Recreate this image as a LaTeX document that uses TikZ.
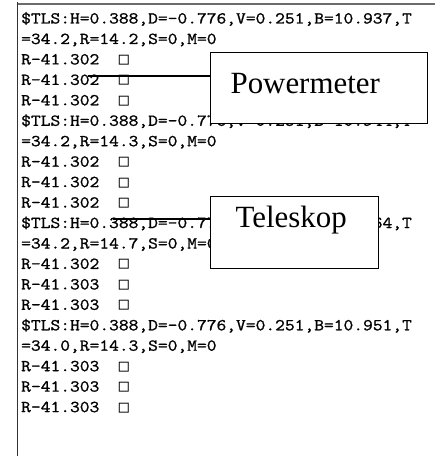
\documentclass[tikz,border=0pt]{standalone}
\usepackage{fontspec}
\setmainfont{Liberation Serif}
\newfontfamily\listfont{Latin Modern Mono}[FakeStretch=1.14,FakeBold=1.2]
\newfontfamily\glyphfont{DejaVu Sans Mono}
\newcommand{\nochar}{{\glyphfont\fontsize{16.7}{20}\selectfont □}}
\begin{document}
\begin{tikzpicture}[x=1bp,y=-1bp,
    listline/.style={anchor=base west,inner sep=0pt,
      font=\listfont\fontsize{16.7}{20}\selectfont},
    namebox/.style={draw,line width=1.2bp,fill=white,anchor=north west,
      align=left,inner ysep=5bp,font=\fontsize{31}{36}\selectfont}]
  \useasboundingbox (0,0) rectangle (435,456);
  % window frame
  \draw[gray!85!black,line width=2.5bp] (17,3.8) -- (435,3.8);
  \draw[black!80,line width=1bp] (17.5,2.5) -- (17.5,456);
  % terminal output
  \path
    (21,23.5) node[listline] (l1) {\$TLS:H=0.388,D=-0.776,V=0.251,B=10.937,T}
    (21,44.0) node[listline] (l2) {=34.2,R=14.2,S=0,M=0}
    (21,64.4) node[listline] (l3) {R-41.302~~\nochar}
    (21,84.9) node[listline] (l4) {R-41.302~~\nochar}
    (21,105.3) node[listline] (l5) {R-41.302~~\nochar}
    (21,125.8) node[listline] (l6) {\$TLS:H=0.388,D=-0.776,V=0.251,B=10.944,T}
    (21,146.2) node[listline] (l7) {=34.2,R=14.3,S=0,M=0}
    (21,166.7) node[listline] (l8) {R-41.302~~\nochar}
    (21,187.1) node[listline] (l9) {R-41.302~~\nochar}
    (21,207.6) node[listline] (l10) {R-41.302~~\nochar}
    (21,228.0) node[listline] (l11) {\$TLS:H=0.388,D=-0.776,V=0.251,B=10.964,T}
    (21,248.5) node[listline] (l12) {=34.2,R=14.7,S=0,M=0}
    (21,268.9) node[listline] (l13) {R-41.302~~\nochar}
    (21,289.4) node[listline] (l14) {R-41.303~~\nochar}
    (21,309.8) node[listline] (l15) {R-41.303~~\nochar}
    (21,330.3) node[listline] (l16) {\$TLS:H=0.388,D=-0.776,V=0.251,B=10.951,T}
    (21,350.7) node[listline] (l17) {=34.0,R=14.3,S=0,M=0}
    (21,371.2) node[listline] (l18) {R-41.303~~\nochar}
    (21,391.6) node[listline] (l19) {R-41.303~~\nochar}
    (21,412.1) node[listline] (l20) {R-41.303~~\nochar};
  % labels
  \node[namebox,inner xsep=20bp,text width=177bp,text height=36bp,text depth=25bp]
    (power) at (210,52) {Powermeter};
  \node[namebox,inner xsep=25bp,text width=118bp,text height=26bp,text depth=36bp]
    (tele) at (210,196) {Teleskop};
  \coordinate (powerline) at (88,76);
  \coordinate (teleline) at (113,219);
  \begin{scope}[line width=1.2bp]
    \draw (powerline) -- (powerline -| power.west);
    \draw (teleline) -- (teleline -| tele.west);
  \end{scope}
\end{tikzpicture}
\end{document}
